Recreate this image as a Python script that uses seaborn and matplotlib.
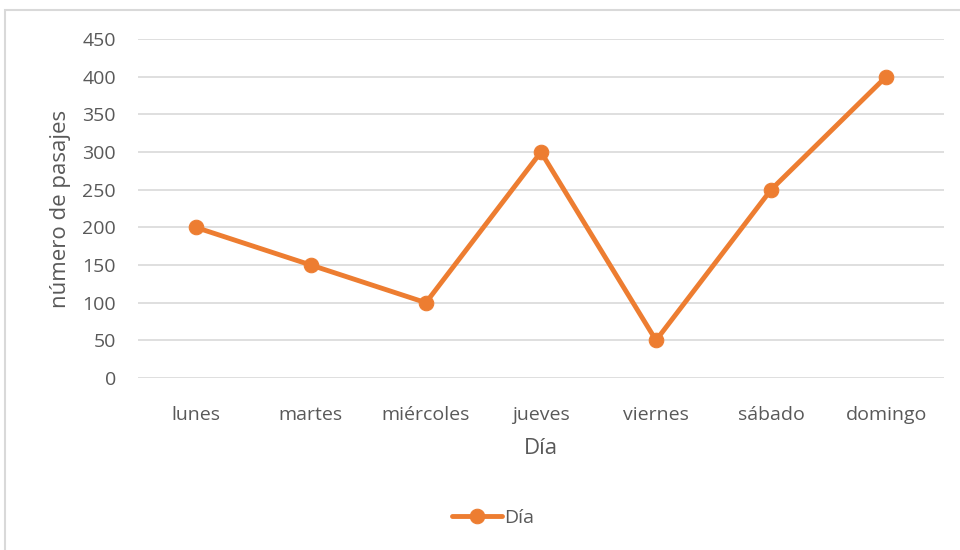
import matplotlib
matplotlib.use("Agg")
import matplotlib.pyplot as plt
import seaborn as sns
import pandas as pd
from matplotlib.patches import Rectangle

dias = ['lunes', 'martes', 'miércoles', 'jueves', 'viernes', 'sábado', 'domingo']
pasajes = [200, 150, 100, 300, 50, 250, 400]
y_ticks = [0, 50, 100, 150, 200, 250, 300, 350, 400, 450]

data = pd.DataFrame({'dia': dias, 'pasajes': pasajes})

sns.set_style('white')
plt.rcParams['font.family'] = ['Open Sans', 'DejaVu Sans']

orange = '#ED7D31'
grey_text = '#595959'
grid_col = '#D9D9D9'

fig = plt.figure(figsize=(9.6, 5.5), dpi=100)
ax = fig.add_axes([0.144, 0.3127, 0.839, 0.6163])

sns.lineplot(data=data, x='dia', y='pasajes', sort=False, ax=ax,
             color=orange, linewidth=3.5, marker='o', markersize=10.5,
             markeredgecolor=orange, label='Día')

ax.set_xlim(-0.5, len(dias) - 0.5)
ax.set_ylim(0, 450)
ax.set_yticks(y_ticks)
ax.grid(axis='y', color=grid_col, linewidth=1.2)
ax.set_axisbelow(True)
for s in ax.spines.values():
    s.set_visible(False)
ax.tick_params(axis='x', length=0, labelsize=14, colors=grey_text, pad=20)
ax.tick_params(axis='y', length=0, labelsize=14, colors=grey_text, pad=16)

ax.set_xlabel('Día', fontsize=16, color=grey_text, labelpad=10)
ax.set_ylabel('número de pasajes', fontsize=16, color=grey_text, labelpad=8)

leg = ax.legend(loc='center', bbox_to_anchor=(493 / 960, 1 - 518 / 550),
                bbox_transform=fig.transFigure, frameon=False, fontsize=14,
                handlelength=2.6, handletextpad=0.1, labelcolor=grey_text)

# outer chart border (cropped on the right and bottom)
fig.patches.append(Rectangle((5 / 960, -0.1), 1.2, 1 - 9.5 / 550 + 0.1,
                             transform=fig.transFigure, fill=False,
                             edgecolor=grid_col, linewidth=1.5))

fig.savefig('out.png', dpi=100)
